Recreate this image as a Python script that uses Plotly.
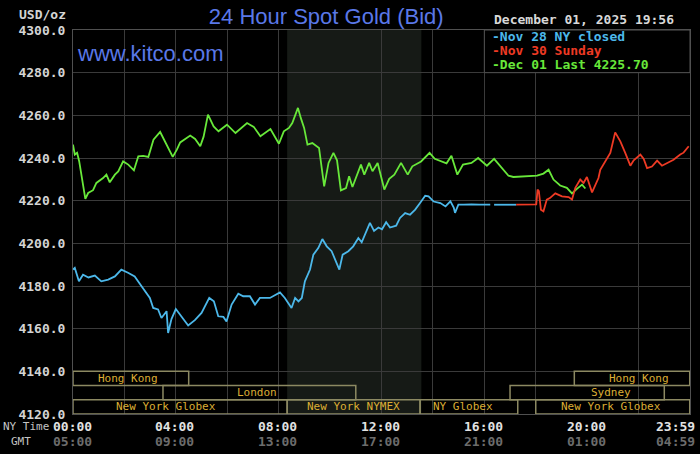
import plotly.graph_objects as go

# Nov 28 (NY closed), hours since NY midnight
nov28_hours = [0, 0.07, 0.23, 0.39, 0.6, 0.85, 1.1, 1.37, 1.63, 1.88, 2.14, 2.4, 2.66, 2.99, 3.12,
               3.31, 3.44, 3.64, 3.7, 3.83, 4.0, 4.22, 4.48, 4.74, 5.0, 5.3, 5.48, 5.65, 5.85, 5.97,
               6.17, 6.43, 6.62, 6.88, 7.08, 7.27, 7.66, 8.05, 8.24, 8.5, 8.64, 8.77, 8.9, 9.02, 9.22,
               9.35, 9.54, 9.7, 9.87, 10.06, 10.26, 10.36, 10.49, 10.71, 10.9, 11.1, 11.23, 11.36,
               11.55, 11.71, 11.88, 12.02, 12.18, 12.33, 12.57, 12.72, 12.92, 13.11, 13.31, 13.5,
               13.7, 13.83, 14.03, 14.29, 14.49, 14.68, 14.81, 14.86, 14.99, 15.2, 15.5, 15.8, 16.23,
               16.3, 16.38, 16.8, 17.24]
nov28_price = [4187.7, 4188.5, 4182.2, 4185.3, 4184.0, 4184.9, 4182.2, 4183.0, 4184.5, 4187.7,
               4186.2, 4184.5, 4180.0, 4174.4, 4169.7, 4169.0, 4165.0, 4168.2, 4158.0, 4164.5,
               4169.2, 4165.8, 4161.5, 4164.0, 4167.4, 4174.4, 4172.8, 4165.8, 4165.5, 4163.4,
               4171.3, 4176.4, 4175.2, 4175.2, 4171.3, 4174.4, 4174.4, 4177.0, 4174.4, 4169.7,
               4174.4, 4172.8, 4174.4, 4182.2, 4187.7, 4194.7, 4197.8, 4202.0, 4198.6, 4196.3,
               4190.0, 4187.7, 4194.7, 4196.3, 4198.6, 4202.5, 4200.5, 4204.0, 4209.6, 4205.8,
               4207.4, 4206.6, 4209.9, 4207.4, 4208.3, 4211.9, 4214.2, 4213.4, 4215.8, 4218.9,
               4222.3, 4222.0, 4219.6, 4218.9, 4217.3, 4219.7, 4216.8, 4214.3, 4218.1, 4218.1,
               4218.3, 4218.1, 4218.1, None, 4218.1, 4218.1, 4218.1]

# Nov 30 (Sunday evening open)
nov30_hours = [17.24, 17.98, 18.02, 18.07, 18.12, 18.2, 18.3, 18.43, 18.55, 18.76, 19.02, 19.28,
               19.41, 19.54, 19.73, 19.86, 19.99, 20.19, 20.31, 20.44, 20.51, 20.7, 20.9, 21.09,
               21.29, 21.48, 21.68, 21.81, 22.07, 22.2, 22.33, 22.52, 22.72, 22.91, 23.1, 23.36,
               23.62, 23.75, 23.95]
nov30_price = [4218.1, 4218.1, 4218.3, 4225.2, 4224.5, 4215.8, 4215.0, 4220.5, 4221.2, 4223.4,
               4222.0, 4221.7, 4220.5, 4226.0, 4229.9, 4228.3, 4231.1, 4223.9, 4227.0, 4230.6,
               4234.5, 4238.4, 4242.4, 4252.0, 4247.8, 4242.4, 4236.4, 4238.9, 4241.6, 4239.6,
               4235.3, 4236.0, 4238.8, 4236.4, 4237.6, 4239.2, 4241.6, 4242.5, 4245.5]

# Dec 01 (today, last 4225.70)
dec01_hours = [0.0, 0.07, 0.16, 0.24, 0.48, 0.59, 0.78, 0.91, 1.17, 1.30, 1.43, 1.63, 1.76, 1.95,
               2.15, 2.37, 2.54, 2.73, 2.93, 3.13, 3.39, 3.58, 3.88, 4.04, 4.17, 4.56, 4.75, 4.95,
               5.08, 5.25, 5.47, 5.66, 5.99, 6.32, 6.45, 6.77, 7.03, 7.29, 7.68, 8.01, 8.2, 8.4,
               8.53, 8.75, 8.86, 8.99, 9.12, 9.31, 9.57, 9.77, 9.94, 10.13, 10.27, 10.42, 10.62,
               10.74, 10.87, 11.2, 11.33, 11.52, 11.65, 11.85, 12.11, 12.3, 12.5, 12.76, 13.02,
               13.2, 13.54, 13.87, 14.07, 14.33, 14.53, 14.72, 14.95, 15.17, 15.5, 15.76, 16.1,
               16.38, 16.62, 16.94, 17.13, 18.05, 18.3, 18.5, 18.69, 18.95, 19.21, 19.41, 19.6,
               19.8, 19.93]
dec01_price = [4246.3, 4241.6, 4242.4, 4238.5, 4220.8, 4223.6, 4224.9, 4228.3, 4230.6, 4232.2,
               4228.6, 4232.2, 4233.7, 4238.4, 4236.9, 4234.2, 4240.8, 4241.0, 4240.5, 4248.6,
               4252.2, 4247.8, 4240.5, 4243.9, 4247.3, 4250.5, 4248.9, 4245.5, 4250.0, 4260.3,
               4254.8, 4252.5, 4255.6, 4251.7, 4253.0, 4256.4, 4254.6, 4250.2, 4253.6, 4246.7,
               4252.5, 4254.1, 4256.4, 4263.5, 4258.8, 4254.1, 4246.3, 4247.0, 4244.7, 4226.7,
               4237.7, 4242.4, 4238.9, 4224.8, 4225.9, 4231.4, 4226.4, 4236.9, 4232.2, 4237.7,
               4233.8, 4237.7, 4225.2, 4230.2, 4232.2, 4237.7, 4232.2, 4236.1, 4238.4, 4242.4,
               4239.6, 4238.4, 4237.5, 4241.1, 4232.2, 4236.9, 4237.7, 4240.0, 4236.4, 4239.6,
               4236.1, 4231.7, 4231.1, 4231.7, 4232.7, 4234.5, 4229.9, 4227.1, 4226.0, 4223.4,
               4225.5, 4227.5, 4225.7]

legend_labels = ["Nov 28 NY closed", "Nov 30 Sunday", "Dec 01 Last 4225.70"]

# market sessions: name, open, close (NY hours), row (1 = top)
session_names = ["Hong Kong", "London", "New York Globex", "New York NYMEX", "NY Globex",
                 "Sydney", "New York Globex", "Hong Kong"]
session_open = [0, 3.5, 0, 8.33, 13.5, 17, 18, 19.5]
session_close = [4.5, 11, 8.33, 13.5, 17.3, 23, 23.99, 23.99]
session_row = [1, 2, 3, 3, 3, 2, 3, 1]

tick_hours = [0, 4, 8, 12, 16, 20, 23.983]
ny_labels = ["00:00", "04:00", "08:00", "12:00", "16:00", "20:00", "23:59"]
gmt_labels = ["05:00", "09:00", "13:00", "17:00", "21:00", "01:00", "04:59"]

nymex_open, nymex_close = 8.33, 13.55

BLUE = "#4cb8ea"
RED = "#ee3a24"
GREEN = "#68e83a"
GRID = "#3a3a3a"
MONO = "DejaVu Sans Mono"

fig = go.Figure()
fig.add_trace(go.Scatter(x=nov28_hours, y=nov28_price, mode="lines", connectgaps=False,
                         line=dict(color=BLUE, width=1.8)))
fig.add_trace(go.Scatter(x=dec01_hours, y=dec01_price, mode="lines",
                         line=dict(color=GREEN, width=1.8)))
fig.add_trace(go.Scatter(x=nov30_hours, y=nov30_price, mode="lines",
                         line=dict(color=RED, width=1.8)))

# NYMEX trading hours shading
fig.add_shape(type="rect", xref="x", yref="paper", x0=nymex_open, x1=nymex_close, y0=0, y1=1,
              fillcolor="#161a16", line_width=0, layer="below")

# session boxes along the bottom
row_edges = {1: (4133.4, 4140), 2: (4126.7, 4133.4), 3: (4120, 4126.7)}
label_at = [2.13, 7.15, 3.61, 10.9, 15.18, 20.94, 20.94, 22.03]
for name, x0, x1, row, lx in zip(session_names, session_open, session_close, session_row, label_at):
    y0, y1 = row_edges[row]
    fig.add_shape(type="rect", xref="x", yref="y", x0=x0, x1=x1, y0=y0, y1=y1,
                  line=dict(color="#8c8962", width=1.5), fillcolor="rgba(0,0,0,0)")
    fig.add_annotation(x=lx, y=(y0 + y1) / 2, xref="x", yref="y", text=name, showarrow=False,
                       xanchor="center", font=dict(family=MONO, size=11, color="#dcae34"))

# legend box in the top right
fig.add_shape(type="rect", xref="x", yref="y", x0=16, x1=24, y0=4280, y1=4300,
              fillcolor="black", line=dict(color="#555555", width=1))
for i, (lab, col) in enumerate(zip(legend_labels, [BLUE, RED, GREEN])):
    fig.add_annotation(x=16, y=4297.0 - i * 6.7, xref="x", yref="y", xanchor="left",
                       xshift=6, text="<b>-" + lab + "</b>", showarrow=False,
                       font=dict(family=MONO, size=13, color=col))

# x labels: NY time and GMT rows
for i, (h, ny, gmt) in enumerate(zip(tick_hours, ny_labels, gmt_labels)):
    shift = -14 if i == len(tick_hours) - 1 else -1
    fig.add_annotation(x=h, y=-0.033, xref="x", yref="paper", text="<b>" + ny + "</b>",
                       showarrow=False, xshift=shift, xanchor="center", yanchor="middle",
                       font=dict(family=MONO, size=13, color="#e2e2e2"))
    fig.add_annotation(x=h, y=-0.072, xref="x", yref="paper", text="<b>" + gmt + "</b>",
                       showarrow=False, xshift=shift, xanchor="center", yanchor="middle",
                       font=dict(family=MONO, size=13, color="#6c6c6c"))

fig.add_annotation(x=-0.076, y=-0.033, xref="paper", yref="paper", text="NY Time",
                   showarrow=False, xanchor="center", yanchor="middle",
                   font=dict(family=MONO, size=11, color="#c4c4c4"))
fig.add_annotation(x=-0.0835, y=-0.072, xref="paper", yref="paper", text="GMT",
                   showarrow=False, xanchor="center", yanchor="middle",
                   font=dict(family=MONO, size=11, color="#c4c4c4"))
fig.add_annotation(x=-0.0076, y=1.041, xref="paper", yref="paper", text="<b>USD/oz</b>",
                   showarrow=False, xanchor="right", yanchor="middle",
                   font=dict(family=MONO, size=13, color="#d4d4d4"))
fig.add_annotation(x=0.978, y=1.027, xref="paper", yref="paper",
                   text="<b>December 01, 2025 19:56</b>", showarrow=False,
                   xanchor="right", yanchor="middle", font=dict(family=MONO, size=13, color="#d8d8d8"))
fig.add_annotation(x=0.003, y=0.939, xref="paper", yref="paper", text="www.kitco.com",
                   showarrow=False, xanchor="left", yanchor="middle",
                   font=dict(family="Liberation Sans", size=22, color="#5a78e8"))

fig.update_layout(
    width=700, height=454,
    margin=dict(l=73, r=10, t=30, b=40),
    paper_bgcolor="black", plot_bgcolor="black",
    showlegend=False,
    title=dict(text="24 Hour Spot Gold (Bid)", x=0.466, y=0.963, xanchor="center", yanchor="middle",
               font=dict(family="Liberation Sans", size=22, color="#5a78e8")),
    xaxis=dict(range=[0, 24], showticklabels=False, showgrid=False, zeroline=False,
               showline=True, mirror=True, linecolor="#505050", linewidth=1,
               minor=dict(dtick=2, tick0=0, showgrid=True, gridcolor=GRID, gridwidth=1)),
    yaxis=dict(range=[4120, 4300], dtick=20, tick0=4120, tickformat=".1f",
               showgrid=True, gridcolor=GRID, gridwidth=1, zeroline=False,
               showline=True, mirror=True, linecolor="#505050", linewidth=1,
               ticks="outside", ticklen=4, tickcolor="black",
               tickfont=dict(family=MONO, size=13, color="#d4d4d4", weight="bold")),
)

# the page body has a default margin; drop it so the chart sits at the window corner
fig.write_html("out.html", config={"displayModeBar": False},
               post_script="document.body.style.margin='0';document.body.style.background='black';")
